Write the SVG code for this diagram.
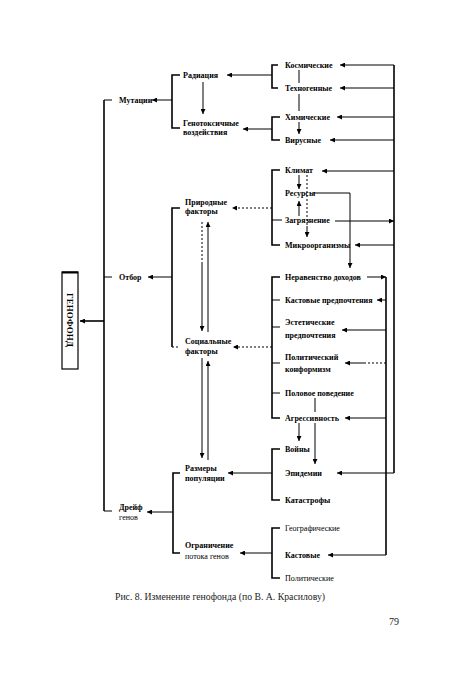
<svg xmlns="http://www.w3.org/2000/svg" width="450" height="675" viewBox="0 0 450 675">
<defs>
<marker id="a" viewBox="0 0 6 6" refX="6" refY="3" markerWidth="6" markerHeight="5" markerUnits="userSpaceOnUse" orient="auto">
<path d="M0,0 L6,3 L0,6 z" fill="#000"/>
</marker>
<style>
.l{fill:none;stroke:#000;stroke-width:1}
.b{fill:none;stroke:#000;stroke-width:1.6}
.d{fill:none;stroke:#000;stroke-width:1;stroke-dasharray:2,2}
.ar{marker-end:url(#a)}
text{font-family:"Liberation Serif","DejaVu Serif",serif;font-size:8px;font-weight:bold;fill:#000}
.r{font-weight:normal}
.cap{font-size:10px;font-weight:normal;fill:#222}
</style>
</defs>
<rect width="450" height="675" fill="#fff"/>

<g id="connectors">
<!-- main trunk -->
<path class="b" d="M104,100 V511"/>
<path class="l" d="M104,100 H112 M104,277 H112 M104,511 H112"/>
<path class="b ar" d="M104,321 H80"/>
<!-- mutations -->
<path class="l ar" d="M172,100 H152"/>
<path class="b" d="M180,75 H172 V128 H180"/>
<path class="l ar" d="M272,75 H227"/>
<path class="l ar" d="M203,82 V114"/>
<path class="l ar" d="M272,129 H243"/>
<path class="b" d="M278,65 H272 V88 H278"/>
<path class="b" d="M280,117 H272 V140 H280"/>
<path class="l ar" d="M394,65 H340"/>
<path class="l ar" d="M394,88 H340"/>
<path class="l ar" d="M394,117 H337"/>
<path class="l ar" d="M394,140 H330"/>
<path class="l" d="M299,70 V83 M299,94 V111"/>
<path class="l ar" d="M299,122 V134"/>
<path class="b" d="M394,65 V473"/>
<!-- selection -->
<path class="l ar" d="M172,277 H148"/>
<path class="b" d="M180,208 H172 V347"/>
<path class="d" d="M172,347 H180"/>
<path class="d ar" d="M272,208 H232"/>
<path class="d ar" d="M272,347 H233"/>
<path class="d" d="M202,222 V262"/>
<path class="l ar" d="M202,262 V331"/>
<path class="l ar" d="M208,332 V222"/>
<path class="l ar" d="M202,358 V458"/>
<path class="l ar" d="M208,460 V361"/>
<!-- natural factors -->
<path class="b" d="M280,170 H272 V245 H280"/>
<path class="l" d="M272,220 H282"/>
<path class="l ar" d="M394,171 H322"/>
<path class="l ar" d="M312,193 H350 V268"/>
<path class="l ar" d="M335,221 H394"/>
<path class="l ar" d="M394,245 H355"/>
<path class="l ar" d="M299,175 V189"/>
<path class="d" d="M307,175 V226"/>
<path class="l ar" d="M307,226 V237"/>
<path class="l ar" d="M299,216 V201"/>
<!-- social factors -->
<path class="b" d="M280,277 H272 V418 H280"/>
<path class="l" d="M272,300 H280 M272,327 H280 M272,363 H280 M272,393 H280"/>
<path class="l ar" d="M367,277 H386"/>
<path class="b" d="M386,277 V555"/>
<path class="l ar" d="M386,555 H328"/>
<path class="l ar" d="M386,300 H377"/>
<path class="l ar" d="M386,330 H342"/>
<path class="d" d="M386,363 H366"/>
<path class="l ar" d="M366,363 H345"/>
<path class="l ar" d="M386,418 H345"/>
<path class="l" d="M315,398 V412"/>
<path class="l ar" d="M299,423 V441"/>
<path class="l ar" d="M315,423 V464"/>
<!-- population size -->
<path class="b" d="M280,449 H272 V500 H280"/>
<path class="l ar" d="M272,473 H228"/>
<path class="l ar" d="M394,473 H337"/>
<path class="b" d="M280,528 H272 V578 H280"/>
<path class="l ar" d="M272,553 H240"/>
<!-- drift -->
<path class="b" d="M180,473 H173 V553 H180"/>
<path class="l ar" d="M173,512 H147"/>
</g>

<g id="genofond">
<rect x="62" y="272" width="16" height="97" fill="#fff" stroke="#000" stroke-width="1.2"/>
<path d="M62,272.5 H78" stroke="#000" stroke-width="2"/>
<text transform="translate(70,320) rotate(90)" text-anchor="middle" dominant-baseline="central" style="font-size:9px">ГЕНОФОНД</text>
</g>
<g id="mutacii"><text x="119" y="103">Мутации</text></g>
<g id="otbor"><text x="119" y="280">Отбор</text></g>
<g id="dreif"><text x="119" y="510">Дрейф</text><text x="119" y="520" class="r">генов</text></g>

<g id="radiacia"><text x="183" y="78">Радиация</text></g>
<g id="genotox"><text x="183" y="126">Генотоксичные</text><text x="183" y="135">воздействия</text></g>
<g id="kosm"><text x="285" y="68">Космические</text></g>
<g id="tehno"><text x="285" y="91">Техногенные</text></g>
<g id="him"><text x="285" y="120">Химические</text></g>
<g id="vir"><text x="285" y="143">Вирусные</text></g>

<g id="prirodnye"><text x="185" y="205">Природные</text><text x="185" y="214">факторы</text></g>
<g id="socialnye"><text x="185" y="344">Социальные</text><text x="185" y="354">факторы</text></g>

<g id="klimat"><text x="285" y="173">Климат</text></g>
<g id="resursy"><text x="285" y="196">Ресурсы</text></g>
<g id="zagr"><text x="285" y="223">Загрязнение</text></g>
<g id="mikro"><text x="285" y="248">Микроорганизмы</text></g>

<g id="neravenstvo"><text x="285" y="280">Неравенство доходов</text></g>
<g id="kastpred"><text x="285" y="303">Кастовые предпочтения</text></g>
<g id="estet"><text x="285" y="325">Эстетические</text><text x="285" y="338">предпочтения</text></g>
<g id="polit"><text x="285" y="360">Политический</text><text x="285" y="372">конформизм</text></g>
<g id="polovoe"><text x="285" y="396">Половое поведение</text></g>
<g id="agress"><text x="285" y="421">Агрессивность</text></g>

<g id="voiny"><text x="285" y="452">Войны</text></g>
<g id="epid"><text x="285" y="476">Эпидемии</text></g>
<g id="katastr"><text x="285" y="503">Катастрофы</text></g>
<g id="razmery"><text x="185" y="471">Размеры</text><text x="185" y="481">популяции</text></g>

<g id="geogr"><text x="285" y="531" class="r">Географические</text></g>
<g id="kastovye"><text x="285" y="558">Кастовые</text></g>
<g id="politich"><text x="285" y="581" class="r">Политические</text></g>
<g id="ogranich"><text x="185" y="548">Ограничение</text><text x="185" y="559" class="r">потока генов</text></g>

<text x="115" y="600" class="cap" textLength="210" lengthAdjust="spacingAndGlyphs">Рис. 8.  Изменение генофонда (по В. А. Красилову)</text>
<text x="389" y="625" class="cap">79</text>
</svg>
